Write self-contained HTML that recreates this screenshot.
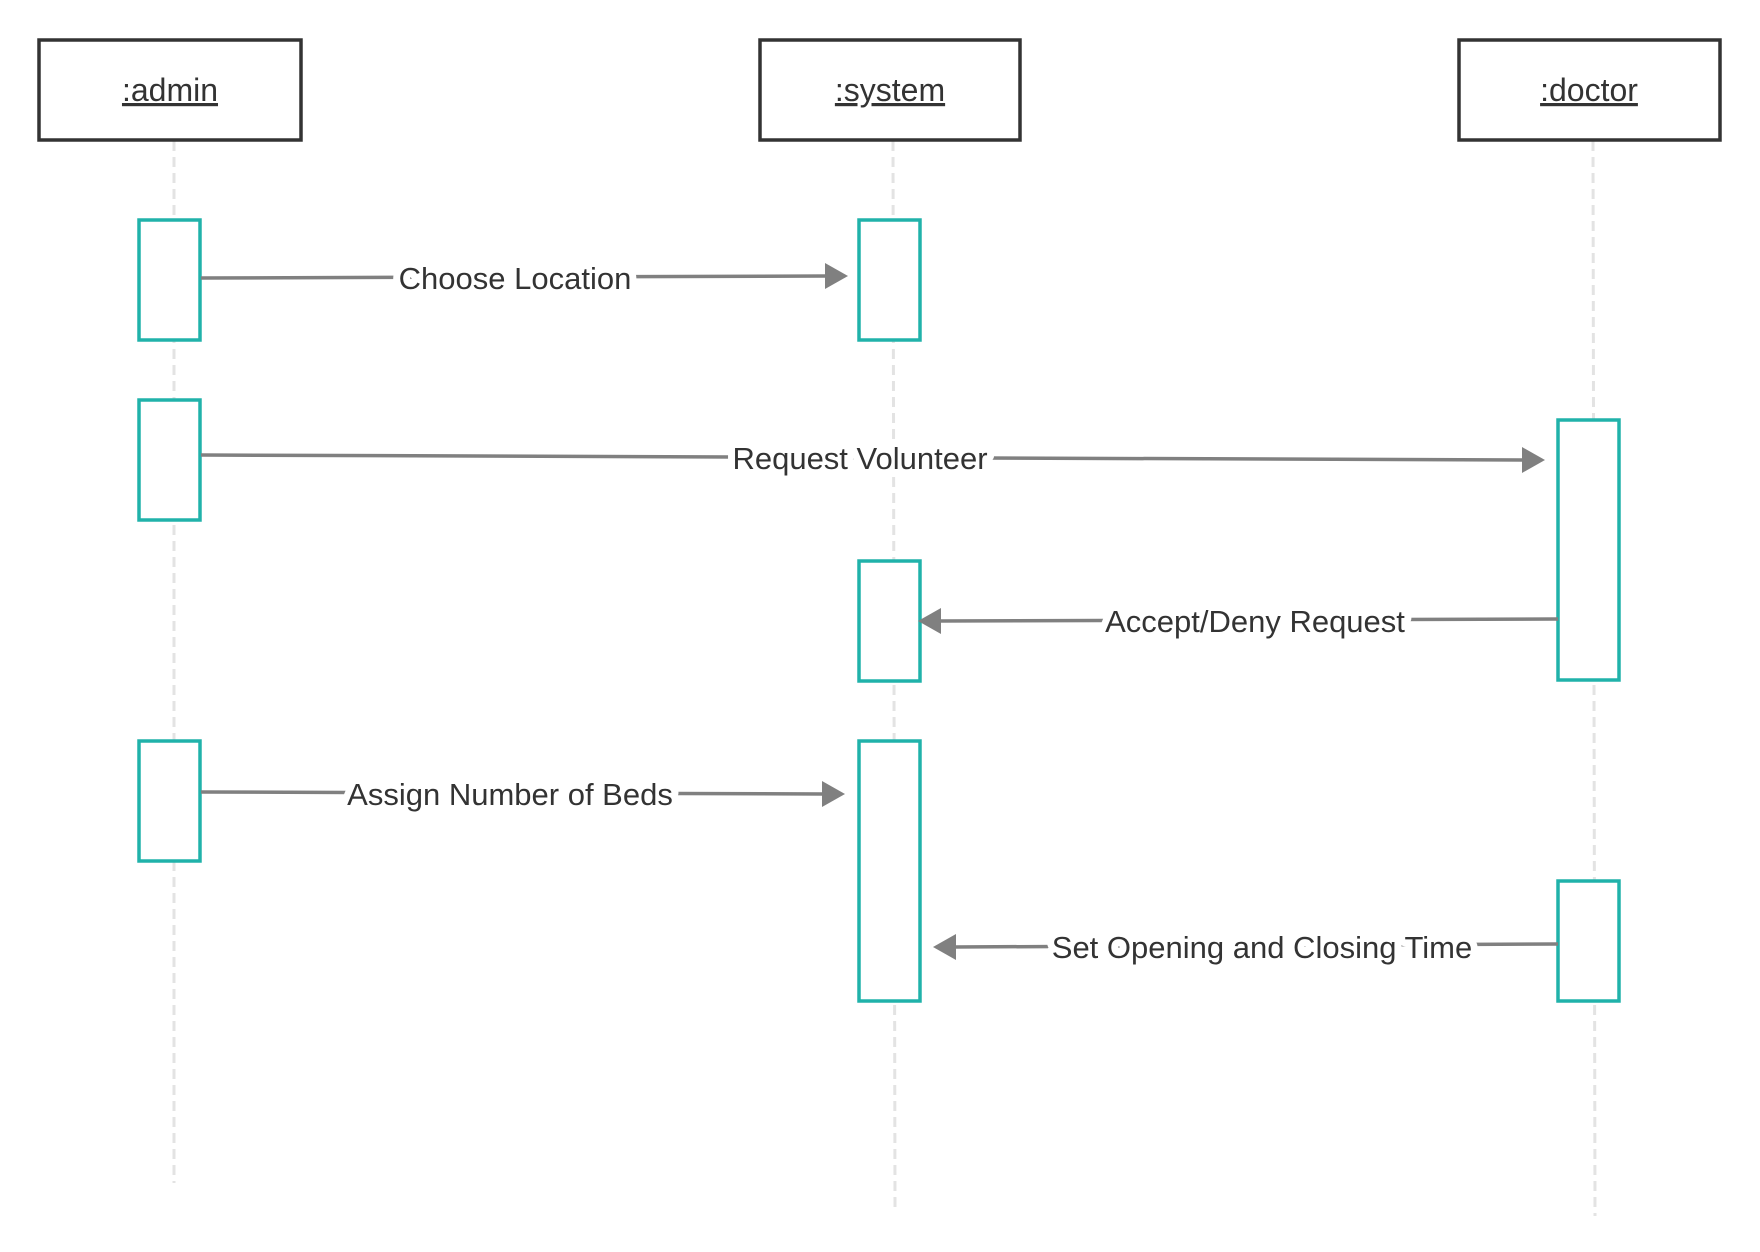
<!DOCTYPE html>
<html><head><meta charset="utf-8"><style>html,body{margin:0;padding:0;background:#fff}svg{display:block}</style></head>
<body>
<svg width="1760" height="1252" viewBox="0 0 1760 1252" xmlns="http://www.w3.org/2000/svg" font-family="'Liberation Sans', sans-serif">
<rect width="1760" height="1252" fill="#fff"/>
<g stroke="#e3e3e3" stroke-width="3" stroke-dasharray="10,6">
<line x1="174" y1="141" x2="174" y2="1183"/>
<line x1="893" y1="141" x2="895" y2="1207"/>
<line x1="1593" y1="141" x2="1595" y2="1216"/>
</g>
<g fill="#fff" stroke="#333" stroke-width="3.5">
<rect x="39" y="40" width="262" height="100"/>
<rect x="760" y="40" width="260" height="100"/>
<rect x="1459" y="40" width="261" height="100"/>
</g>
<g font-size="32" fill="#333" text-anchor="middle" text-decoration="underline">
<text x="170" y="101">:admin</text>
<text x="890" y="101">:system</text>
<text x="1589" y="101">:doctor</text>
</g>
<g fill="#fff" stroke="#20b2aa" stroke-width="3.5">
<rect x="139" y="220" width="61" height="120"/>
<rect x="139" y="400" width="61" height="120"/>
<rect x="139" y="741" width="61" height="120"/>
<rect x="859" y="220" width="61" height="120"/>
<rect x="859" y="561" width="61" height="120"/>
<rect x="859" y="741" width="61" height="260"/>
<rect x="1558" y="420" width="61" height="260"/>
<rect x="1558" y="881" width="61" height="120"/>
</g>
<g stroke="#808080" stroke-width="3.5" fill="none">
<line x1="201" y1="278" x2="828" y2="276"/>
<line x1="201" y1="455" x2="1524" y2="460"/>
<line x1="1558" y1="619" x2="938" y2="621"/>
<line x1="201" y1="792" x2="825" y2="794"/>
<line x1="1558" y1="944" x2="954" y2="947"/>
</g>
<g fill="#808080">
<polygon points="848,276 825,263 825,289"/>
<polygon points="1545,460 1522,447 1522,473"/>
<polygon points="918,621 941,608 941,634"/>
<polygon points="845,794 822,781 822,807"/>
<polygon points="933,947 956,934 956,960"/>
</g>
<g font-size="31" fill="#333" text-anchor="middle" stroke="#fff" stroke-width="14" paint-order="stroke" stroke-linejoin="round">
<text x="515" y="289">Choose Location</text>
<text x="860" y="469">Request Volunteer</text>
<text x="1255" y="632">Accept/Deny Request</text>
<text x="510" y="805">Assign Number of Beds</text>
<text x="1262" y="958">Set Opening and Closing Time</text>
</g>
</svg>
</body></html>
